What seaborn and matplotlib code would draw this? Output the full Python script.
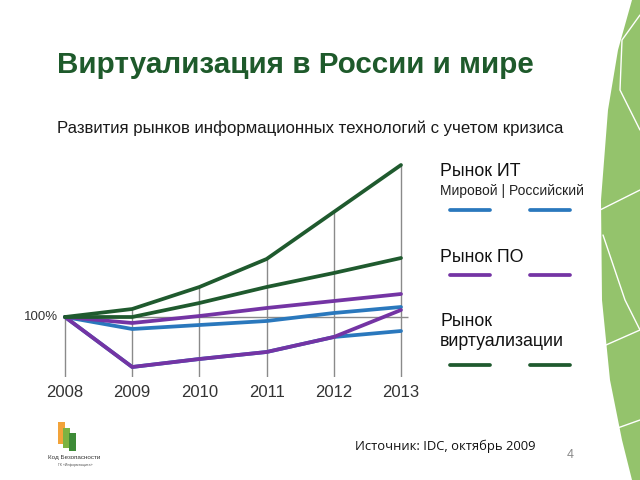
import numpy as np
import pandas as pd
import seaborn as sns
import matplotlib.pyplot as plt
from matplotlib.lines import Line2D
from matplotlib.patches import Polygon, Rectangle

# index, 2008 = 100%
years = [2008, 2009, 2010, 2011, 2012, 2013]
it_world = [100, 88, 92, 96, 104, 110]
it_russia = [100, 50, 58, 65, 80, 86]
sw_world = [100, 94, 101, 109, 116, 123]
sw_russia = [100, 50, 58, 65, 80, 107]
virt_world = [100, 108, 130, 158, 205, 252]
virt_russia = [100, 100, 114, 130, 144, 159]

series = {
    'ИТ, мировой': it_world,
    'ИТ, российский': it_russia,
    'ПО, мировой': sw_world,
    'ПО, российский': sw_russia,
    'Виртуализация, мировой': virt_world,
    'Виртуализация, российский': virt_russia,
}
BLUE, PURPLE, GREEN = '#2a78bd', '#7434a4', '#1f5a2e'
palette = {
    'ИТ, мировой': BLUE, 'ИТ, российский': BLUE,
    'ПО, мировой': PURPLE, 'ПО, российский': PURPLE,
    'Виртуализация, мировой': GREEN, 'Виртуализация, российский': GREEN,
}

df = pd.DataFrame([(k, y, v) for k, vals in series.items() for y, v in zip(years, vals)],
                  columns=['series', 'year', 'value'])

sns.set_theme(style='white')
plt.rcParams['font.family'] = ['Liberation Sans', 'DejaVu Sans']

W, H = 640, 480
fig = plt.figure(figsize=(6.4, 4.8), dpi=100)

def fx(x):
    return x / W

def fy(y):
    return 1 - y / H

# decorative green shape on the right edge
edge = [(632, 0), (618, 50), (608, 110), (601, 200), (602, 300), (610, 380), (622, 440), (632, 480),
        (640, 480), (640, 0)]
fig.add_artist(Polygon([(fx(a), fy(b)) for a, b in edge], closed=True, transform=fig.transFigure,
                       facecolor='#94c36c', edgecolor='none'))
for pts in [[(640, 15), (622, 40), (620, 90), (640, 130)],
            [(600, 210), (640, 190)],
            [(603, 235), (625, 300), (640, 330)],
            [(606, 345), (640, 330)],
            [(612, 430), (640, 420)]]:
    fig.add_artist(Line2D([fx(a) for a, b in pts], [fy(b) for a, b in pts], transform=fig.transFigure,
                          color='white', lw=1))

# axes placed so that 2008..2013 spans px 65..401 and 100% sits at px 317
x0, x1 = 40, 420
y_top, y_bot = 150, 377
ax = fig.add_axes([fx(x0), fy(y_bot), (x1 - x0) / W, (y_bot - y_top) / H])
px_per_year = (401 - 65) / 5
ax.set_xlim(2008 - (65 - x0) / px_per_year, 2013 + (x1 - 401) / px_per_year)
ax.set_ylim(100 - (y_bot - 317), 100 + (317 - y_top))

tops = df.groupby('year')['value'].max()
ax.vlines(years, ax.get_ylim()[0], tops.values, color='#8a8a8a', lw=1, zorder=1)
ax.hlines(100, 2008, 2013.1, color='#8a8a8a', lw=1, zorder=1)

sns.lineplot(data=df, x='year', y='value', hue='series', palette=palette,
             hue_order=list(series.keys()), lw=2.7, legend=False, ax=ax, zorder=3)

ax.set_xticks(years)
ax.set_xticklabels([str(y) for y in years], fontsize=12, color='#333333')
ax.set_yticks([])
ax.annotate('100%', xy=(2008, 100), xytext=(-7, 0), textcoords='offset pixels',
            ha='right', va='center', fontsize=9.5, color='#333333')
ax.tick_params(axis='x', length=0, pad=6)
ax.set_xlabel('')
ax.set_ylabel('')
sns.despine(ax=ax, left=True, bottom=True)
ax.patch.set_alpha(0)

# titles
fig.text(fx(57), fy(65), 'Виртуализация в России и мире', fontsize=21.3, fontweight='bold',
         color='#1e5a2b', va='center')
fig.text(fx(57), fy(128), 'Развития рынков информационных технологий с учетом кризиса',
         fontsize=12.1, color='#1a1a1a', va='center')

# legend
fig.text(fx(440), fy(172), 'Рынок ИТ', fontsize=12.8, color='#111111', va='center')
fig.text(fx(440), fy(191), 'Мировой | Российский', fontsize=10, color='#222222', va='center')
fig.text(fx(440), fy(258), 'Рынок ПО', fontsize=12.8, color='#111111', va='center')
fig.text(fx(440), fy(321), 'Рынок', fontsize=12.8, color='#111111', va='center')
fig.text(fx(440), fy(342), 'виртуализации', fontsize=12.8, color='#111111', va='center')
for color, yy in [(BLUE, 210), (PURPLE, 275), (GREEN, 365)]:
    for a, b in [(450, 490), (530, 570)]:
        fig.add_artist(Line2D([fx(a), fx(b)], [fy(yy), fy(yy)], transform=fig.transFigure,
                              color=color, lw=2.7))

# footer
fig.text(fx(355), fy(446), 'Источник: IDC, октябрь 2009', fontsize=9.4, color='#111111', va='center',
         family=['Open Sans', 'DejaVu Sans'])
fig.text(fx(567), fy(455), '4', fontsize=9, color='#888888', va='center')

# small logo
for (lx, ly, lw_, lh, c) in [(58, 422, 7, 22, '#f2a33a'), (63, 428, 7, 20, '#7cb342'),
                             (69, 433, 7, 18, '#3d8b37')]:
    fig.add_artist(Rectangle((fx(lx), fy(ly + lh)), lw_ / W, lh / H, transform=fig.transFigure,
                             facecolor=c, edgecolor='none'))
fig.text(fx(48), fy(458), 'Код Безопасности', fontsize=4.5, color='#333333', va='center')
fig.text(fx(58), fy(465), 'ГК «Информзащита»', fontsize=2.5, color='#555555', va='center')

fig.savefig('out.png', dpi=100)
